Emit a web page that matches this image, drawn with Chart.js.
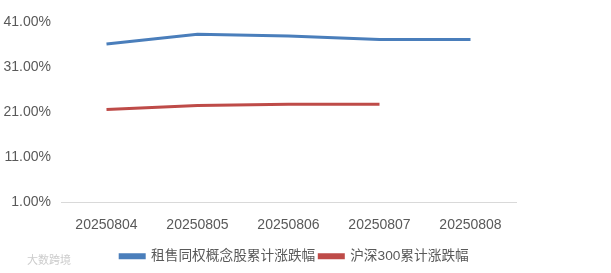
<!DOCTYPE html>
<html>
<head>
<meta charset="utf-8">
<script src="https://cdn.jsdelivr.net/npm/chart.js@4"></script>
<style>
  html, body { margin: 0; padding: 0; background: #fff; }
  #wrap { position: relative; width: 611px; height: 273px; }
</style>
</head>
<body>
<div id="wrap"><canvas id="lineChart"></canvas></div>
<script>
const dates = ["20250804", "20250805", "20250806", "20250807", "20250808"];
const rentShares = [36.1, 38.3, 37.9, 37.1, 37.1];
const hs300 = [21.6, 22.5, 22.8, 22.8, null];
const yTicks = [1, 11, 21, 31, 41];

const fontFamily = "'Liberation Sans', 'Noto Sans CJK SC', sans-serif";

const watermark = {
  id: "watermark",
  afterDraw(chart) {
    const c = chart.ctx;
    c.save();
    c.fillStyle = "rgba(195,195,195,0.85)";
    c.font = "11px 'Noto Sans CJK SC'";
    c.textBaseline = "middle";
    c.fillText("大数跨境", 27, 260);
    c.restore();
  },
};

const ctx = document.getElementById("lineChart");
new Chart(ctx, {
  type: "line",
  data: {
    labels: dates,
    datasets: [
      {
        label: "租售同权概念股累计涨跌幅",
        data: rentShares,
        borderColor: "#4a7ebb",
        backgroundColor: "#4a7ebb",
        borderWidth: 3,
        pointRadius: 0,
        tension: 0,
      },
      {
        label: "沪深300累计涨跌幅",
        data: hs300,
        borderColor: "#be4b48",
        backgroundColor: "#be4b48",
        borderWidth: 3,
        pointRadius: 0,
        tension: 0,
      },
    ],
  },
  options: {
    responsive: true,
    maintainAspectRatio: false,
    animation: false,
    layout: { padding: { left: 3, right: 25, top: 22, bottom: 0 } },
    scales: {
      x: {
        offset: true,
        grid: { display: false },
        border: { display: true, color: "#d9d9d9", width: 1 },
        ticks: {
          color: "#595959",
          font: { family: fontFamily, size: 14 },
          padding: 6,
          maxRotation: 0,
        },
        afterFit(axis) {
          axis.height += 6;
        },
      },
      y: {
        min: yTicks[0],
        max: yTicks[yTicks.length - 1],
        grid: { display: false, drawTicks: false },
        border: { display: false },
        ticks: {
          stepSize: yTicks[1] - yTicks[0],
          color: "#595959",
          font: { family: fontFamily, size: 14 },
          padding: 10,
          callback: (v) => Number(v).toFixed(2) + "%",
        },
        afterFit(axis) {
          axis.width = 58;
        },
      },
      spacer: {
        position: "right",
        display: true,
        grid: { display: false, drawTicks: false },
        border: { display: false },
        ticks: { display: false },
        afterFit(axis) {
          axis.width = 70;
        },
      },
    },
    plugins: {
      legend: {
        position: "bottom",
        labels: {
          color: "#595959",
          font: { family: fontFamily, size: 13.7 },
          boxWidth: 24,
          boxHeight: 3,
          padding: 4,
        },
      },
      tooltip: { enabled: false },
    },
  },
  plugins: [watermark],
});
</script>
</body>
</html>
